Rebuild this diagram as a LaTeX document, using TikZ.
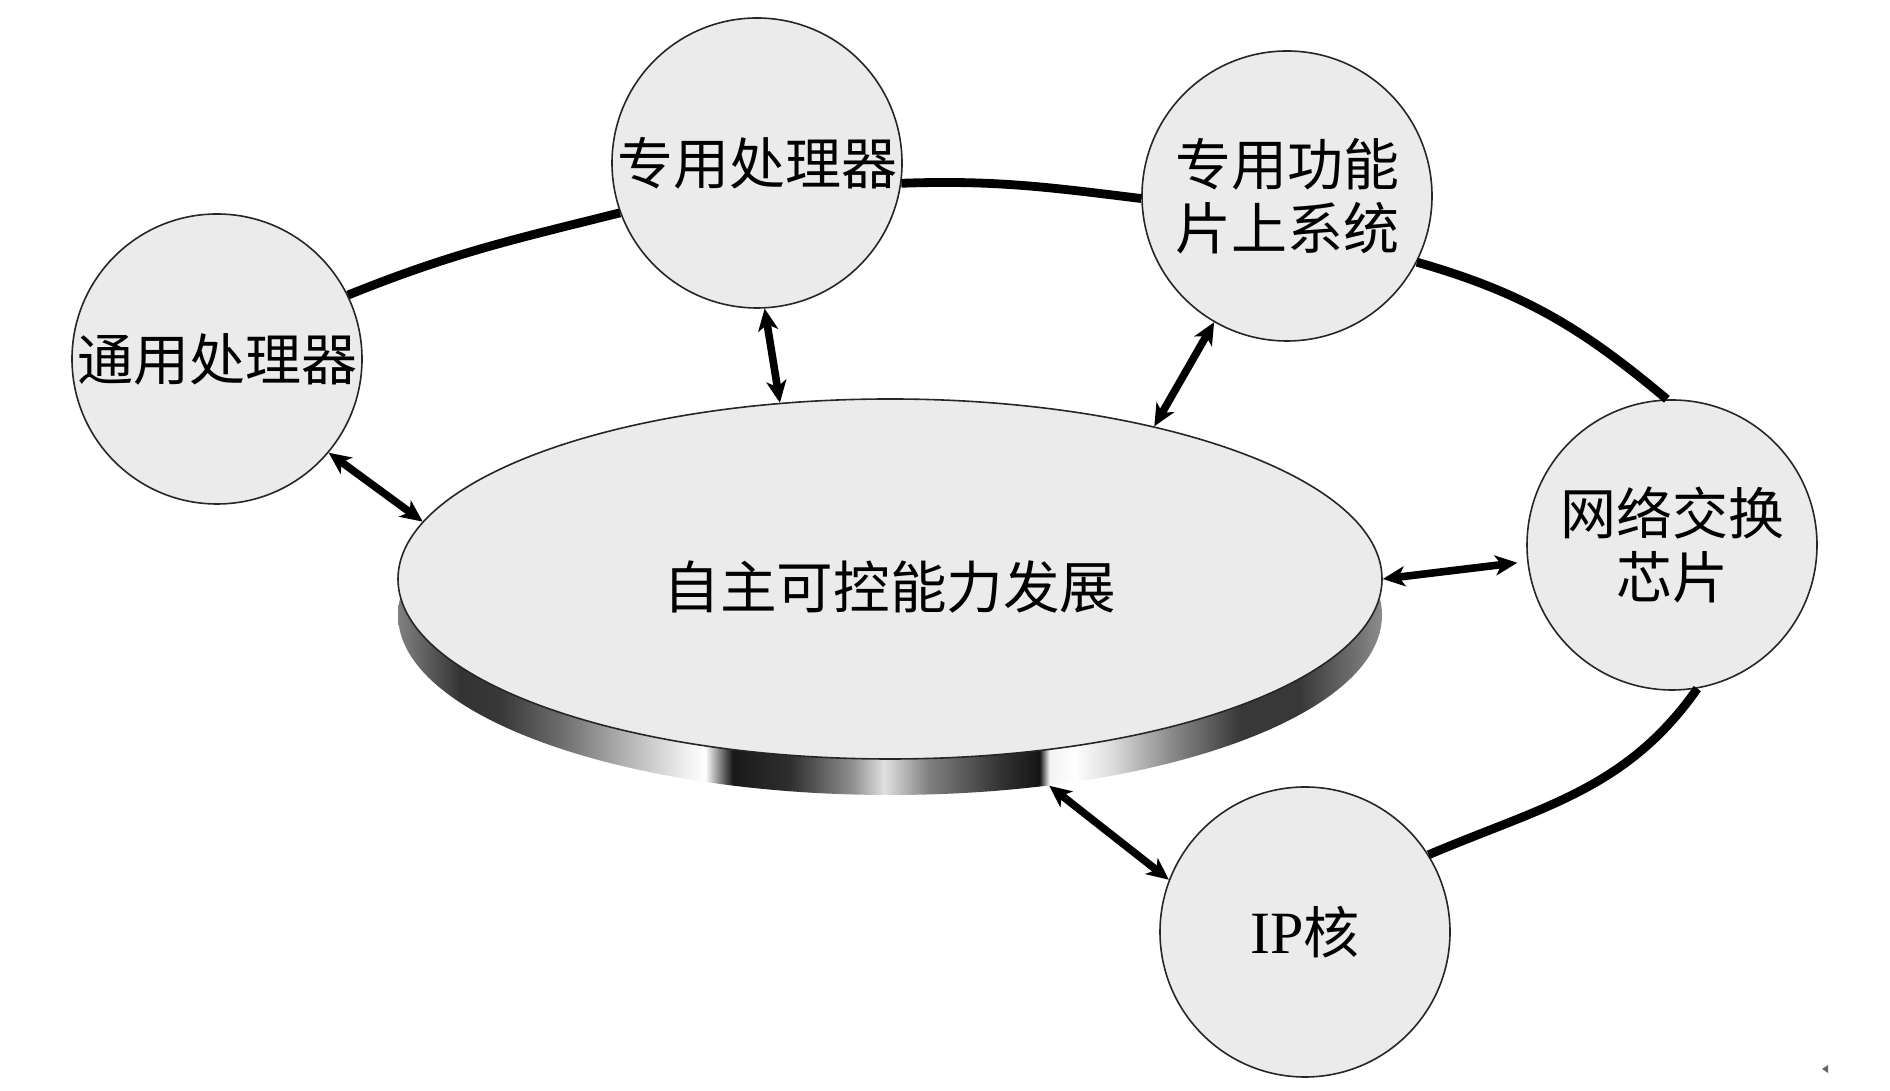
\documentclass[tikz,border=0pt]{standalone}
\usepackage{fontspec}
\newfontfamily\cjk{Noto Sans CJK SC}
\newfontfamily\latinserif{Liberation Serif}
\usetikzlibrary{shapes.geometric,arrows.meta}
\definecolor{bubfill}{HTML}{EBEBEB}
\pgfdeclarehorizontalshading{rimshade}{100bp}{
color(0bp)=(black!50); color(25bp)=(black!50); color(25.6bp)=(black!55);
color(28.2bp)=(black!80); color(30.2bp)=(black!78); color(33.2bp)=(black!58);
color(36.8bp)=(black!28); color(39.8bp)=(black!5); color(40.6bp)=(white);
color(41.3bp)=(black!45); color(42bp)=(black!90); color(44.9bp)=(black!82);
color(48bp)=(black!45); color(49.7bp)=(black!12); color(52bp)=(black!50);
color(55.6bp)=(black!80); color(57.6bp)=(black!92); color(58.1bp)=(black!5);
color(59.4bp)=(white); color(61.4bp)=(black!15); color(64.2bp)=(black!45);
color(67.8bp)=(black!78); color(70.8bp)=(black!78); color(73.4bp)=(black!58);
color(75bp)=(black!45); color(100bp)=(black!45)}
\begin{document}
\begin{tikzpicture}[x=0.5pt,y=0.5pt,
  bub/.style={circle, draw=black!85, line width=0.8pt, fill=bubfill,
    minimum size=145pt, inner sep=0pt, align=center,
    font=\cjk\fontsize{28}{32}\selectfont},
  disc/.style={ellipse, minimum width=492pt, minimum height=180pt, inner sep=0pt},
  ring/.style={line width=4.4pt},
  biarrow/.style={line width=3.8pt,
    >={Stealth[length=11pt,width=10pt,inset=3pt]}, <->}]
\useasboundingbox (0,0) rectangle (1890,1091);
\fill[white] (0,0) rectangle (1890,1091);

% central disc
\node[disc, shade, shading=rimshade] (rim) at (890,476) {};
\node[disc, draw=black!85, line width=0.8pt, fill=bubfill,
  font=\cjk\fontsize{28.3}{32}\selectfont] (core) at (890,512)
  {\raisebox{-4pt}[\height][\depth]{自主可控能力发展}};

% satellites
\node[bub] (A) at (217,732) {通用处理器};
\node[bub] (B) at (757,928) {专用处理器};
\node[bub] (C) at (1287,895) {专用功能\\片上系统};
\node[bub] (D) at (1672,546) {网络交换\\芯片};
\node[bub] (E) at (1305,159) {{\latinserif\fontsize{30}{32}\selectfont IP}核};

% outer ring
\draw[ring] (A.26) to[out=22,in=194] (B.200);
\draw[ring] (B.-8) to[out=2,in=173] (C.181);
\draw[ring] (C.-27) to[out=-16,in=140] (D.92);
\draw[ring] (D.-80) to[out=-125,in=23] (E.32);

% double arrows
\draw[biarrow] (A.-40) -- (core.173);
\draw[biarrow] (B.-87) -- (core.122);
\draw[biarrow] (C.-120) -- (core.30);
\draw[biarrow] (core.0.5) -- ([xshift=-5pt]D.187);
\draw[biarrow] (rim.-47) -- (E.159);

% small mark
\fill[black!60] (1822,22) -- (1828,26) -- (1828,18) -- cycle;
\end{tikzpicture}
\end{document}
